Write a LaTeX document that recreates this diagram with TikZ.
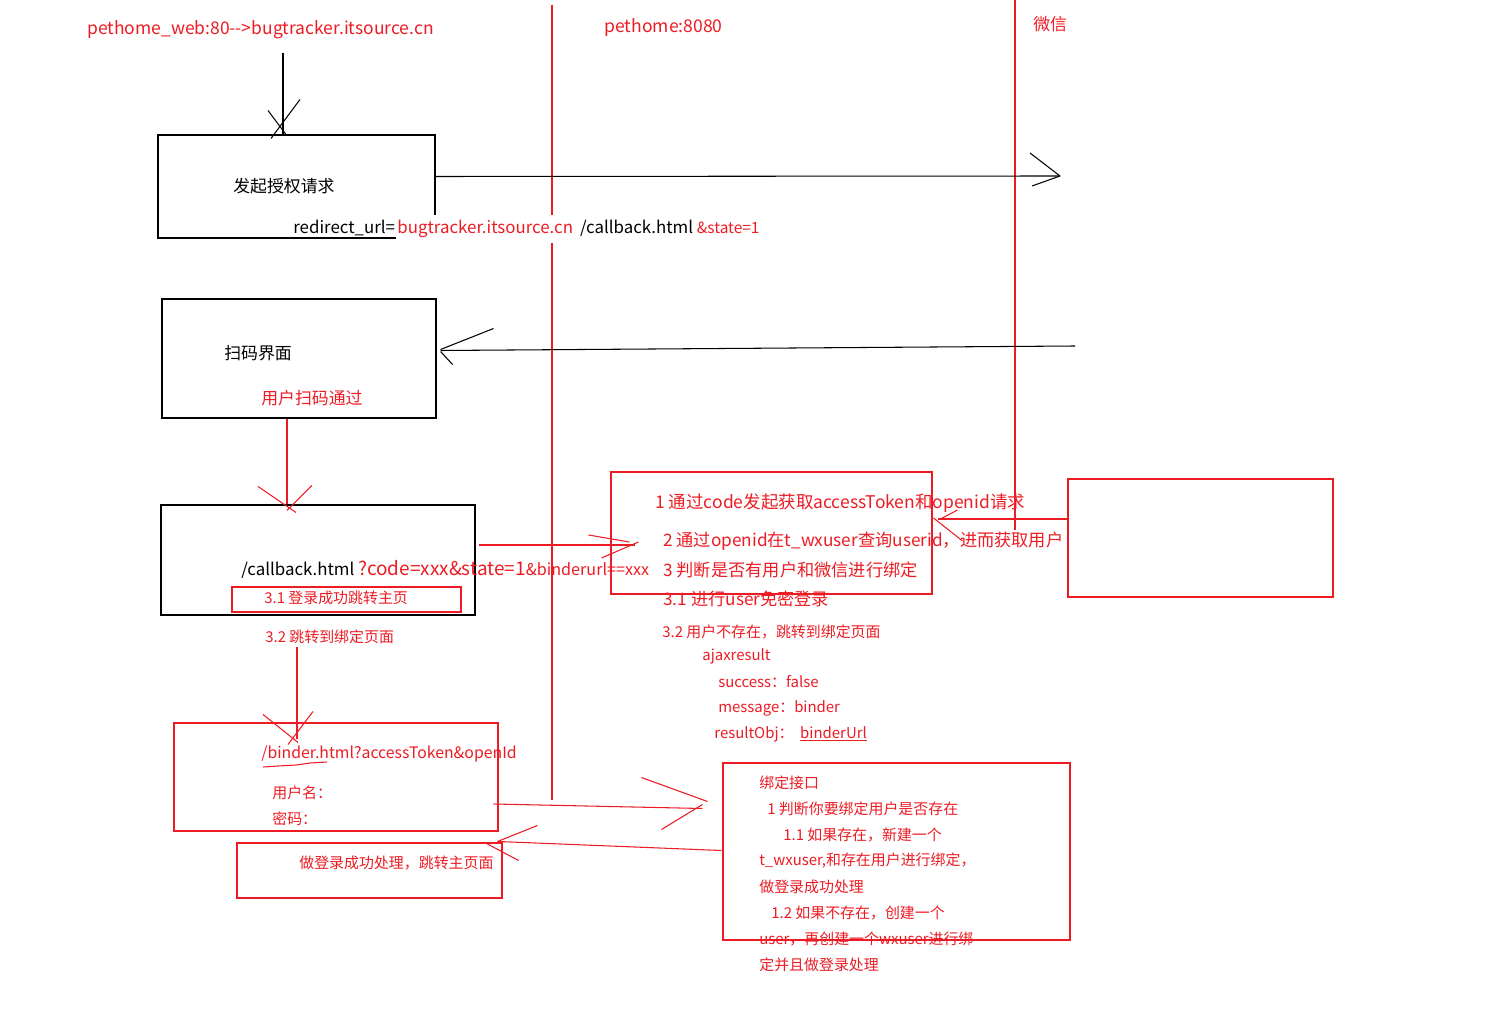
\documentclass[tikz,border=0pt]{standalone}
\usepackage{fontspec}
\setmainfont{Noto Sans CJK SC}
\usetikzlibrary{calc,fit}
\definecolor{paintred}{RGB}{237,28,36}
\def\barbs[#1](#2)(#3)(#4)(#5)(#6){\draw[#1] ($(#2)+(#3)$) -- ($(#2)+(#4)$); \draw[#1] ($(#2)+(#5)$) -- ($(#2)+(#6)$);}
\tikzset{
  ink/.style={draw=black, line width=0.6pt},
  redink/.style={draw=paintred, line width=0.6pt},
  pbox/.style={ink, inner sep=0pt},
  rbox/.style={redink, inner sep=0pt},
  txt/.style={anchor=west, inner sep=0pt, font=\fontsize{9.6}{11}\selectfont},
  bigtxt/.style={txt, font=\fontsize{9.8}{12}\selectfont},
  smalltxt/.style={txt, font=\fontsize{8.5}{10}\selectfont},
  redtxt/.style={text=paintred},
}

\begin{document}
\begin{tikzpicture}[x=0.02cm, y=-0.02cm]
			%%%%% FRAME %%%%%
			\useasboundingbox (0,0) rectangle (1494,1023);
			\fill[white] (0,0) rectangle (1494,1023);
			
			% lifelines
			\draw[redink] (552,5) -- (552,800);
			\draw[redink] (1015,0) -- (1015,530);
			
			\node[txt, redtxt, font=\fontsize{9.95}{11}\selectfont] (webhost) at (87,30) {pethome\_web:80-{}->bugtracker.itsource.cn};
			\node[txt, redtxt, font=\fontsize{10}{11}\selectfont] (apihost) at (604,28) {pethome:8080};
			\node[txt, redtxt] (wxhost) at (1033,24) {微信};
			
			%%%%% BOXES %%%%%
			\node[pbox, fit={(158,135) (435,238)}] (auth) {};
			\node[pbox, fit={(162,299) (436,418)}] (scan) {};
			\node[pbox, fit={(161,505) (475,615)}] (cb) {};
			\node[rbox, fit={(232,587) (461,612)}] (ok31) {};
			\node[rbox, fit={(611,472) (932,594)}] (srv) {};
			\node[rbox, fit={(1068,479) (1333,597)}] (wx) {};
			\node[rbox, fit={(174,723) (498,831)}] (bindpage) {};
			\node[rbox, fit={(237,843) (502,898)}] (done) {};
			\node[rbox, fit={(723,763) (1070,940)}] (bindapi) {};
			
			%%%%% TEXT %%%%%
			\node[txt] (authlbl) at (233,186) {发起授权请求};
			\node[txt] (redir) at (293,228) {redirect\_url=};
			\node[txt, anchor=base west, fill=white, inner ysep=3pt, inner xsep=1pt] (redirtail) at (redir.base east)
				{\textcolor{paintred}{bugtracker.itsource.cn}\hspace{4pt}/callback.html \textcolor{paintred}{\fontsize{8.8}{9}\selectfont\&state=1}};
			
			\node[txt] (scanlbl) at (224,353) {扫码界面};
			\node[txt, redtxt] (scanok) at (261,398) {用户扫码通过};
			
			\node[txt] (cblbl) at (241,569) {/callback.html \textcolor{paintred}{\fontsize{10.8}{11}\selectfont ?code=xxx\&state=1{\fontsize{9.2}{10}\selectfont\&binderurl==xxx}}};
			\node[smalltxt, redtxt] (ok31lbl) at (264,598) {3.1 登录成功跳转主页};
			\node[smalltxt, redtxt] (jump32) at (265,637) {3.2 跳转到绑定页面};
			
			\node[bigtxt, redtxt, font=\fontsize{9.95}{12}\selectfont] (step1) at (655,503) {1 通过code发起获取accessToken和openid请求};
			\node[bigtxt, redtxt] (step2) at (663,541) {2 通过openid在t\_wxuser查询userid，进而获取用户};
			\node[bigtxt, redtxt] (step3) at (663,570) {3 判断是否有用户和微信进行绑定};
			\node[bigtxt, redtxt] (step31) at (663,599) {3.1 进行user免密登录};
			\node[smalltxt, redtxt] (step32) at (662,632) {3.2 用户不存在，跳转到绑定页面};
			\foreach \x/\y/\t [count=\i] in {702/656/ajaxresult, 718/682/success：false, 718/708/message：binder, 714/734/{resultObj：\ \ \underline{binderUrl}}}
				\node[smalltxt, redtxt] (ajax\i) at (\x,\y) {\t};
			
			\node[smalltxt, redtxt, font=\fontsize{9}{10}\selectfont] (bindurl) at (261,754) {/binder.html?accessToken\&openId};
			\draw[redink] (263,767) -- (278,766) -- (296,765) -- (310,763) -- (327,762);
			\node[smalltxt, redtxt] (uname) at (272,793) {用户名：};
			\node[smalltxt, redtxt] (pwd) at (272,819) {密码：};
			\node[smalltxt, redtxt] (donelbl) at (299,863) {做登录成功处理，跳转主页面};
			
			\foreach \x/\t [count=\i] in {759/绑定接口, 767/1 判断你要绑定用户是否存在, 783/1.1 如果存在，新建一个, 759/{t\_wxuser,和存在用户进行绑定，}, 759/做登录成功处理, 771/1.2 如果不存在，创建一个, 759/user，再创建一个wxuser进行绑, 759/定并且做登录处理}
				\node[smalltxt, redtxt] (api\i) at (\x,{757+26*\i}) {\t};
			
			%%%%% ARROWS %%%%%
			\coordinate (entry) at (283,53);
			\draw[ink] (entry) -- (entry |- auth.north);
			\barbs[ink](entry |- auth.north)(-15,-24)(3,0)(17,-35)(-12,4)
			
			\coordinate (wxin) at (1060,176);
			\draw[ink] ($(auth.east)+(0,-10)$) -- (wxin);
			\barbs[ink](wxin)(-30,-23)(0,0)(-28,10)(0,0)
			
			\coordinate (wxout) at (1075,346);
			\draw[ink] (wxout) -- ($(scan.east)+(4,-8)$);
			\barbs[ink]($(scan.east)+(4,-8)$)(53,-22)(0,-1)(0,1)(12,14)
			
			\coordinate (scandown) at ($(scan.south)+(-12,0)$);
			\draw[redink] (scandown) -- (scandown |- cb.north);
			\barbs[redink](scandown |- cb.north)(-29,-18)(9,8)(25,-19)(0,6)
			
			\draw[redink] ($(cb.east)+(3,-15)$) -- ($(srv.west)+(25,12)$);
			\barbs[redink]($(srv.west)+(25,11)$)(-47,-9)(-6,-2)(3,-2)(-34,14)
			
			\draw[redink] ($(wx.west)+(2,-19)$) -- ($(srv.east)+(5,-14)$);
			\barbs[redink]($(srv.east)+(5,-14)$)(-4,-1)(25,22)(3,0)(20,-9)
			
			\coordinate (j32) at (297,647);
			\draw[redink] (j32) -- ($(j32 |- bindpage.north)+(0,17)$);
			\barbs[redink](j32 |- bindpage.north)(-34,-8)(1,20)(16,-11)(-9,22)
			
			\draw[redink] ($(bindpage.east)+(-5,27)$) -- ($(bindapi.west)+(-20,-43)$);
			\barbs[redink]($(bindapi.west)+(-20,-43)$)(-61,-31)(5,-7)(0,-4)(-41,21)
			
			\draw[redink] ($(bindapi.west)+(-1,-1)$) -- ($(done.north east)+(-5,-1)$);
			\barbs[redink]($(done.north east)+(-5,-1)$)(40,-16)(0,0)(-11,2)(21,19)
			
			%%%%% END %%%%%
\end{tikzpicture}
\end{document}
